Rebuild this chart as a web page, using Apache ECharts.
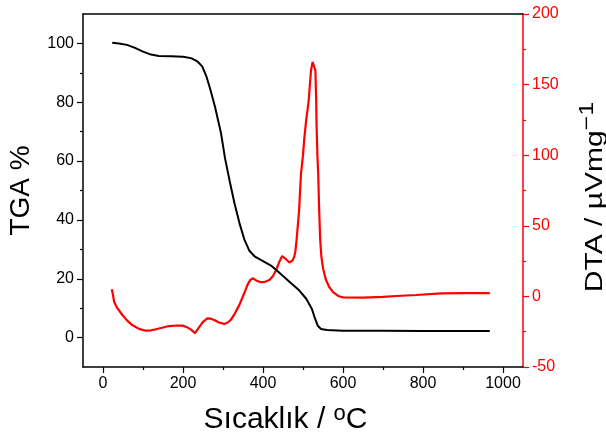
<!DOCTYPE html>
<html>
<head>
<meta charset="utf-8">
<script src="https://cdn.jsdelivr.net/npm/echarts@6.0.0/dist/echarts.min.js"></script>
<style>
  html, body { margin: 0; padding: 0; background: #fff; }
  #main { width: 606px; height: 444px; }
</style>
</head>
<body>
<div id="main"></div>
<script>
// TGA curve (left axis, %)
var tgaTemp = [23, 40, 60, 80, 100, 120, 140, 170, 200, 220, 235, 248, 258, 268, 280, 295, 305, 317, 329, 341, 353, 366, 380, 400, 420, 441, 466, 491, 508, 522, 530, 537, 545, 560, 600, 700, 800, 900, 967];
var tgaValue = [100.2, 100, 99.5, 98.5, 97.2, 96.2, 95.7, 95.6, 95.5, 95.0, 94, 92.2, 89, 84.5, 78.5, 69.5, 61, 53, 45.5, 39, 33.5, 29.5, 27.5, 26, 24.5, 22, 19, 16, 13.2, 9.8, 6.5, 4, 2.9, 2.6, 2.3, 2.3, 2.2, 2.2, 2.2];

// DTA curve (right axis, µV/mg)
var dtaTemp = [22, 25, 28, 35, 48, 60, 73, 90, 107, 120, 132, 150, 165, 185, 199, 210, 220, 230, 240, 250, 261, 270, 278, 290, 303, 312, 320, 330, 341, 352, 361, 368, 374, 385, 395, 405, 416, 425, 433, 440, 448, 455, 466, 474, 478, 481, 484, 490, 495, 500, 503, 508, 514, 520, 524, 528, 531, 533, 534, 536, 538, 540, 543, 546, 550, 557, 565, 575, 588, 600, 650, 700, 733, 783, 845, 900, 967];
var dtaValue = [5, 1, -4, -8, -13, -17, -20.3, -23, -24.3, -24, -23.3, -22, -21, -20.6, -20.7, -21.8, -23.5, -26, -22, -18, -15.5, -15.8, -16.7, -18.5, -19.5, -18.5, -16.5, -12, -6, 1.5, 8, 11.5, 12.8, 11, 10, 10.3, 11.6, 14.5, 18.7, 24, 28.6, 27, 24, 25.5, 28, 32, 40, 60, 87, 100, 111, 125, 138, 160, 166, 166, 160, 138, 120, 100, 87, 65, 40, 28, 20, 12, 7, 3, 0.3, -0.7, -0.8, -0.4, 0.3, 1, 2.2, 2.3, 2.3];

// axis ticks
var xMajor = [0, 200, 400, 600, 800, 1000];
var xMinor = [100, 300, 500, 700, 900];
var yLeftMajor = [0, 20, 40, 60, 80, 100];
var yLeftMinor = [10, 30, 50, 70, 90];

function pairs(xs, ys) {
    return xs.map(function (x, i) { return [x, ys[i]]; });
}
function plain(v) { return String(v); }

var FONT = 'Arial, "Liberation Sans", sans-serif';
var RED = '#ff0000';

var option = {
    animation: false,
    grid: {
        left: 83, right: 83, top: 14, bottom: 77,
        outerBoundsMode: 'none'
    },
    // right axis title is squashed in the original, so draw it as a scaled text
    graphic: [{
        type: 'text',
        x: 589,
        y: 197,
        rotation: Math.PI / 2,
        scaleY: 0.8,
        style: {
            text: '{a|DTA / µVmg}{s|−1}',
            align: 'center',
            verticalAlign: 'middle',
            rich: {
                a: { fontSize: 30, fontFamily: FONT, fill: '#000', lineHeight: 30, padding: [16, 0, 0, 0] },
                s: { fontSize: 25, fontFamily: FONT, fill: '#000', lineHeight: 25, verticalAlign: 'top' }
            }
        }
    }],
    xAxis: [{
        type: 'value',
        position: 'bottom',
        min: -50, max: 1050,
        axisLine: { show: true, onZero: false, lineStyle: { color: '#000', width: 1.5 } },
        axisTick: { show: true, customValues: xMajor, length: 6, lineStyle: { color: '#000', width: 1.2 } },
        axisLabel: { customValues: xMajor, formatter: plain, fontSize: 16, color: '#000', fontFamily: FONT, margin: 9 },
        splitLine: { show: false },
        name: '{a|Sıcaklık / }{s|o}{a|C}',
        nameLocation: 'middle',
        nameGap: 36,
        nameTextStyle: {
            padding: [0, 35, 0, 0],
            rich: {
                a: { fontSize: 30, fontFamily: FONT, color: '#000', lineHeight: 34 },
                s: { fontSize: 22, fontFamily: FONT, color: '#000', verticalAlign: 'top' }
            }
        }
    }, {
        type: 'value',
        position: 'bottom',
        min: -50, max: 1050,
        axisLine: { show: false, onZero: false },
        axisTick: { show: true, customValues: xMinor, length: 3, lineStyle: { color: '#000', width: 1.2 } },
        axisLabel: { show: false },
        splitLine: { show: false }
    }, {
        type: 'value',
        position: 'top',
        min: -50, max: 1050,
        axisLine: { show: true, onZero: false, lineStyle: { color: '#000', width: 1.5 } },
        axisTick: { show: false },
        axisLabel: { show: false },
        splitLine: { show: false }
    }],
    yAxis: [{
        type: 'value',
        position: 'left',
        min: -10, max: 110,
        axisLine: { show: true, onZero: false, lineStyle: { color: '#000', width: 1.5 } },
        axisTick: { show: true, customValues: yLeftMajor, length: 6, lineStyle: { color: '#000', width: 1.2 } },
        axisLabel: { customValues: yLeftMajor, formatter: plain, fontSize: 16, color: '#000', fontFamily: FONT, margin: 9 },
        splitLine: { show: false },
        name: 'TGA %',
        nameLocation: 'middle',
        nameGap: 48,
        nameTextStyle: { fontSize: 28, fontFamily: FONT, color: '#000' }
    }, {
        type: 'value',
        position: 'right',
        min: -50, max: 200, interval: 50,
        axisLine: { show: true, onZero: false, lineStyle: { color: RED, width: 1.5 } },
        axisTick: { show: true, length: 6, lineStyle: { color: RED, width: 1.2 } },
        minorTick: { show: true, splitNumber: 2, length: 3, lineStyle: { color: RED, width: 1.2 } },
        axisLabel: { formatter: plain, fontSize: 16, color: RED, fontFamily: FONT, margin: 9 },
        splitLine: { show: false },
        minorSplitLine: { show: false }
    }, {
        type: 'value',
        position: 'left',
        min: -10, max: 110,
        axisLine: { show: false, onZero: false },
        axisTick: { show: true, customValues: yLeftMinor, length: 3, lineStyle: { color: '#000', width: 1.2 } },
        axisLabel: { show: false },
        splitLine: { show: false }
    }],
    series: [{
        name: 'TGA',
        type: 'line',
        xAxisIndex: 0,
        yAxisIndex: 0,
        data: pairs(tgaTemp, tgaValue),
        showSymbol: false,
        lineStyle: { color: '#000', width: 2 },
        z: 3
    }, {
        name: 'DTA',
        type: 'line',
        xAxisIndex: 0,
        yAxisIndex: 1,
        data: pairs(dtaTemp, dtaValue),
        showSymbol: false,
        lineStyle: { color: RED, width: 2.2 },
        z: 2
    }]
};

var myChart = echarts.init(document.getElementById('main'));
myChart.setOption(option);
</script>
</body>
</html>
